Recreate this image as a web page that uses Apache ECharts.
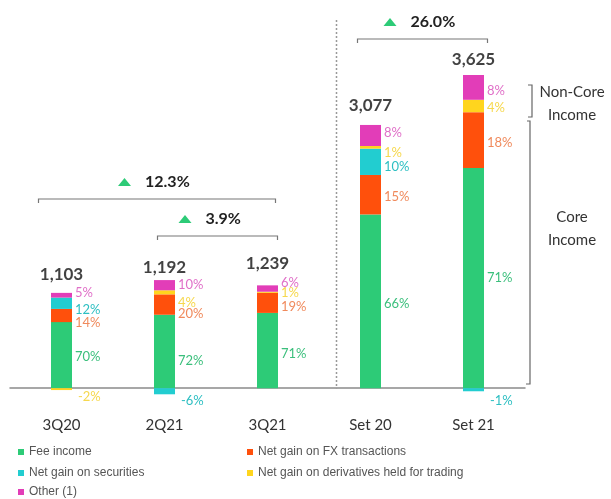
<!DOCTYPE html>
<html>
<head>
<meta charset="utf-8">
<script src="https://cdn.jsdelivr.net/npm/echarts@6/dist/echarts.min.js"></script>
<style>
  html, body { margin: 0; padding: 0; background: #fff; }
  #chart { width: 611px; height: 499px; }
</style>
</head>
<body>
<div id="chart"></div>
<script>
// categories and totals
const categories = ['3Q20', '2Q21', '3Q21', 'Set 20', 'Set 21']
const totals = [1103, 1192, 1239, 3077, 3625]

// share of each income line, in % of the total
const feeIncome = [70, 72, 71, 66, 71]
const fxGain = [14, 20, 19, 15, 18]
const securitiesGain = [12, -6, null, 10, -1]
const derivativesGain = [-2, 4, 1, 1, 4]
const otherIncome = [5, 10, 6, 8, 8]

// growth brackets: from, to, label
const growthFrom = [0, 1, 3]
const growthTo = [2, 2, 4]
const growthLabels = ['12.3%', '3.9%', '26.0%']

// label nudges (vertical, px) so labels don't collide like in the slide
const nudge = {
  fee: [2, 9, 3, 3, 0],
  fx: [7, 9, 4, 2, 3],
  sec: [7, 10, 0, 5, 11],
  der: [8, 10, 1, 5, 2],
  oth: [-2, 0, -6, -3, 3],
}

const chart = echarts.init(document.getElementById('chart'))

const makeSeries = (name, pcts, color, labelColor, nudges) => ({
  name: name,
  type: 'bar',
  stack: 'total',
  barWidth: 21,
  itemStyle: { color: color },
  data: pcts.map((p, i) => {
    if (p == null) return null
    return {
      value: (totals[i] * p) / 100,
      label: {
        show: true,
        position: 'right',
        distance: p < 0 ? 6 : 3,
        offset: [0, nudges[i]],
        color: labelColor,
        fontSize: 13,
        formatter: p + '%',
      },
    }
  }),
})

// one legend per cell: two columns, three rows
const legendCell = (name, left, top) => ({
  data: [name],
  left: left,
  top: top,
  icon: 'rect',
  itemWidth: 6,
  itemHeight: 6,
  textStyle: { fontFamily: 'Liberation Sans', fontSize: 12, color: '#555' },
})

const option = {
  animation: false,
  textStyle: { fontFamily: 'Lato' },
  grid: { left: 10, right: 86, top: 46, bottom: 98 },
  legend: [
    legendCell('Fee income', 13, 441),
    legendCell('Net gain on securities', 13, 462),
    legendCell('Other (1)', 13, 481),
    legendCell('Net gain on FX transactions', 242, 441),
    legendCell('Net gain on derivatives held for trading', 242, 462),
  ],
  xAxis: {
    type: 'category',
    data: categories,
    axisLine: { onZero: true, lineStyle: { color: '#8a8a8a', width: 1.5 } },
    axisTick: { show: false },
    axisLabel: { margin: 17, fontSize: 15, color: '#333' },
  },
  yAxis: {
    type: 'value',
    min: -150,
    max: 4000,
    show: false,
    splitLine: { show: false },
  },
  series: [
    makeSeries('Fee income', feeIncome, '#2DCB77', '#3BBF7C', nudge.fee),
    makeSeries('Net gain on FX transactions', fxGain, '#FF500C', '#F08A5C', nudge.fx),
    makeSeries('Net gain on securities', securitiesGain, '#22CDD0', '#2DBFC2', nudge.sec),
    makeSeries('Net gain on derivatives held for trading', derivativesGain, '#FFD51E', '#F6D84E', nudge.der),
    makeSeries('Other (1)', otherIncome, '#E23DB8', '#E070C8', nudge.oth),
    {
      name: 'total',
      type: 'scatter',
      silent: true,
      symbolSize: 1,
      itemStyle: { color: 'rgba(0,0,0,0)' },
      data: totals,
      z: 5,
      label: {
        show: true,
        position: 'top',
        distance: 10,
        fontSize: 17,
        fontWeight: 'bold',
        color: '#111',
        formatter: (p) => p.value.toLocaleString('en-US'),
      },
    },
  ],
}

chart.setOption(option)

// annotations: brackets, growth arrows, core / non-core braces
const px = (i, v) => chart.convertToPixel({ gridIndex: 0 }, [i, v])
const bracketY = [199, 236, 39]
const bracketPad = [[-23, 8], [-7, 10], [-13, 14]]
const graphics = []

growthLabels.forEach((txt, k) => {
  const x1 = px(growthFrom[k], 0)[0] + bracketPad[k][0]
  const x2 = px(growthTo[k], 0)[0] + bracketPad[k][1]
  const y = bracketY[k]
  const mid = (x1 + x2) / 2
  graphics.push({
    type: 'polyline',
    shape: { points: [[x1, y + 4], [x1, y], [x2, y], [x2, y + 4]] },
    style: { stroke: '#777', lineWidth: 1.2, fill: null },
  })
  graphics.push({
    type: 'polygon',
    shape: { points: [[mid - 39, y - 13], [mid - 26, y - 13], [mid - 32.5, y - 21]] },
    style: { fill: '#2DCB77' },
  })
  graphics.push({
    type: 'text',
    x: mid - 12,
    y: y - 17,
    style: {
      text: txt,
      font: 'bold 16px Lato',
      fill: '#222',
      verticalAlign: 'middle',
    },
  })
})

// dotted separator between quarters and 9M figures
const sepX = px(3, 0)[0] - 34
const zeroY = px(0, 0)[1]
graphics.push({
  type: 'line',
  shape: { x1: sepX, y1: 20, x2: sepX, y2: zeroY },
  style: { stroke: '#999', lineWidth: 1.5, lineDash: [2, 2] },
})

// core / non-core braces on the right
graphics.push({
  type: 'polyline',
  shape: { points: [[528, 85], [532, 85], [532, 117], [528, 117]] },
  style: { stroke: '#666', lineWidth: 1.2, fill: null },
})
graphics.push({
  type: 'polyline',
  shape: { points: [[527, 121], [530, 121], [530, 384], [526, 384]] },
  style: { stroke: '#666', lineWidth: 1.2, fill: null },
})
const sideText = [['Non-Core', 92], ['Income', 115], ['Core', 217], ['Income', 240]]
sideText.forEach(([t, y]) => {
  graphics.push({
    type: 'text',
    x: 572,
    y: y,
    style: { text: t, font: '15px Lato', fill: '#333', align: 'center', verticalAlign: 'middle' },
  })
})

chart.setOption({ graphic: graphics })
</script>
</body>
</html>
